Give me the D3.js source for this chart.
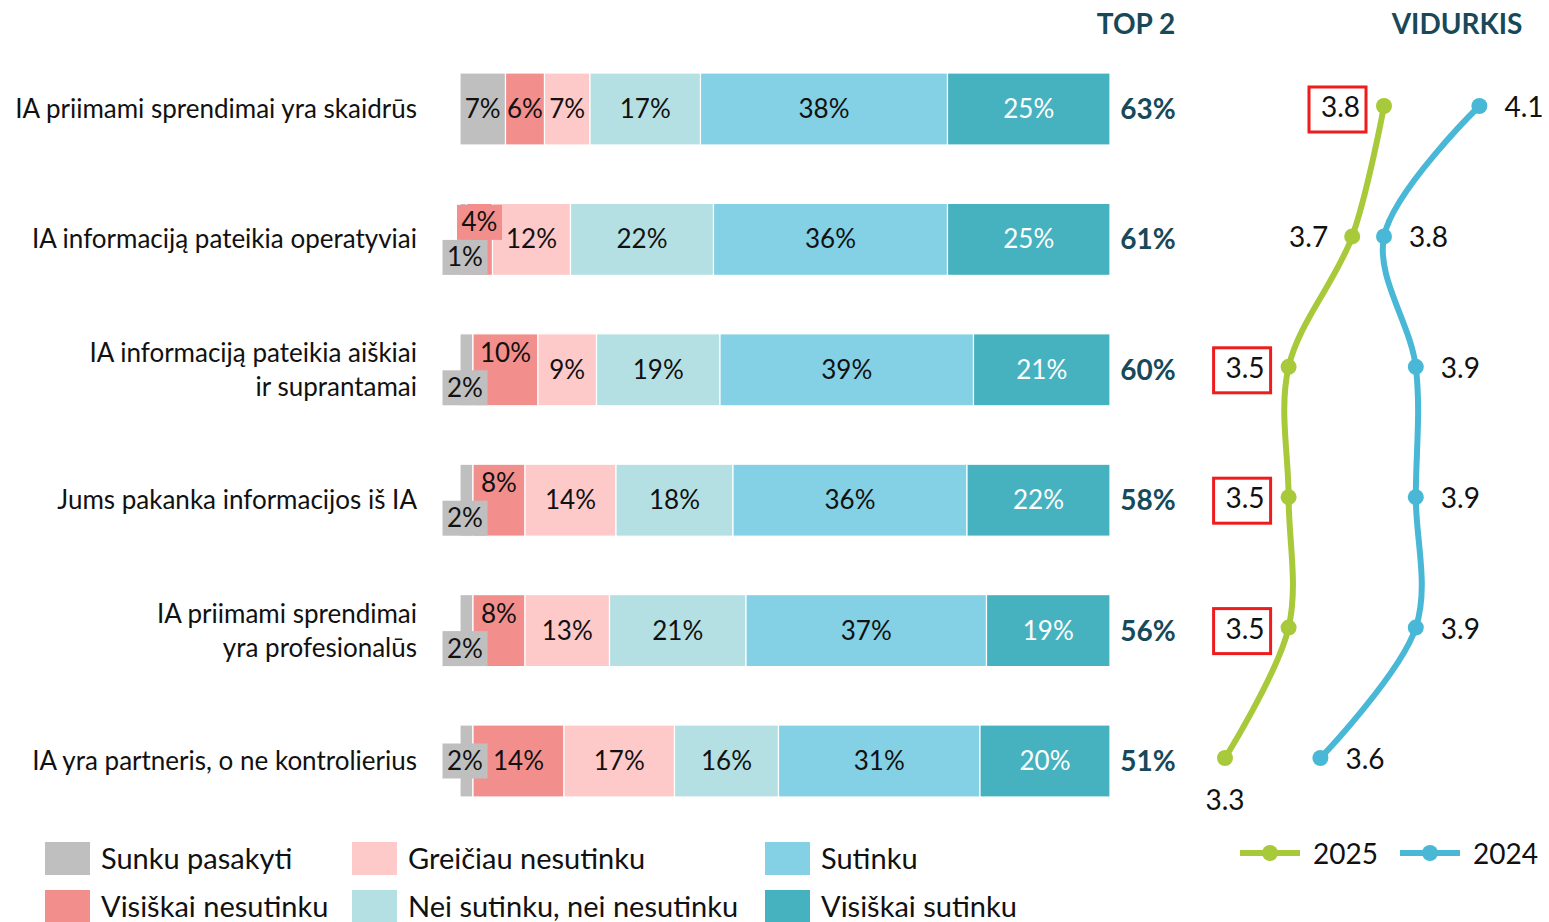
<!DOCTYPE html>
<html>
<head>
<meta charset="utf-8">
<script src="https://cdnjs.cloudflare.com/ajax/libs/d3/7.8.5/d3.min.js"></script>
<style>
body { margin: 0; background: #fff; }
text { font-family: Lato, "Open Sans", sans-serif; }
</style>
</head>
<body>
<div id="chart"></div>
<script>
// statements (top to bottom)
var categories = [
	"IA priimami sprendimai yra skaidrūs",
	"IA informaciją pateikia operatyviai",
	"IA informaciją pateikia aiškiai|ir suprantamai",
	"Jums pakanka informacijos iš IA",
	"IA priimami sprendimai|yra profesionalūs",
	"IA yra partneris, o ne kontrolierius"
];
var seriesNames = ["Sunku pasakyti", "Visiškai nesutinku", "Greičiau nesutinku", "Nei sutinku, nei nesutinku", "Sutinku", "Visiškai sutinku"];
var sunku = [7, 1, 2, 2, 2, 2];
var visiskaiNe = [6, 4, 10, 8, 8, 14];
var greiciauNe = [7, 12, 9, 14, 13, 17];
var neiNei = [17, 22, 19, 18, 21, 16];
var sutinku = [38, 36, 39, 36, 37, 31];
var visiskaiSut = [25, 25, 21, 22, 19, 20];
var top2 = [63, 61, 60, 58, 56, 51];
var avg2025 = [3.8, 3.7, 3.5, 3.5, 3.5, 3.3];
var avg2024 = [4.1, 3.8, 3.9, 3.9, 3.9, 3.6];
var boxed2025 = [true, false, true, true, true, false];

var colors = ["#bfbfbf", "#f28f8d", "#fec9c9", "#b5e0e3", "#84d0e4", "#46b2bf"];
var darkTeal = "#17495a";
var green = "#a8c939", blue = "#49b8d6";

var W = 1549, H = 922;
var svg = d3.select("#chart").append("svg").attr("width", W).attr("height", H);

var x = d3.scaleLinear().domain([0, 100]).range([460, 1110]);
var y = d3.scalePoint().domain(categories).range([109, 761]);
var barH = 72;

var series = [sunku, visiskaiNe, greiciauNe, neiNei, sutinku, visiskaiSut];
var rows = categories.map(function(c, i) {
	var acc = 0;
	var segs = series.map(function(s, k) {
		var seg = {k: k, v: s[i], x0: acc, x1: acc + s[i]};
		acc += s[i];
		return seg;
	});
	return {cat: c, i: i, segs: segs};
});

// category labels
rows.forEach(function(r) {
	var lines = r.cat.split("|");
	var t = svg.append("text")
		.attr("x", 417)
		.attr("text-anchor", "end")
		.style("font-size", "26px")
		.attr("fill", "#111");
	lines.forEach(function(l, j) {
		t.append("tspan")
			.attr("x", 417)
			.attr("y", y(r.cat) + 9 + (j - (lines.length - 1) / 2) * 34)
			.text(l);
	});
});

// bars
var g = svg.selectAll(".row").data(rows).enter().append("g").attr("class", "row");
g.selectAll("rect").data(function(d) { return d.segs.map(function(s) { s.cat = d.cat; return s; }); })
	.enter().append("rect")
	.attr("x", function(d) { return x(d.x0); })
	.attr("y", function(d) { return y(d.cat) - barH / 2; })
	.attr("width", function(d) { return x(d.x1) - x(d.x0); })
	.attr("height", barH)
	.attr("fill", function(d) { return colors[d.k]; })
	.attr("stroke", "#fff")
	.attr("stroke-width", 1.2);

// segment labels
rows.forEach(function(r) {
	var cy = y(r.cat);
	var grey = r.segs[0], red = r.segs[1];
	var greyCallout = grey.v < 3;
	var greyDy = greyCallout ? (red.v >= 12 ? 0 : 18) : 0;
	r.segs.forEach(function(s) {
		var cx = (x(s.x0) + x(s.x1)) / 2;
		var dy = 0;
		var boxed = false;
		if (s.k === 0 && greyCallout) {
			cx = 465; dy = greyDy; boxed = true;
		}
		if (s.k === 1 && greyCallout && greyDy !== 0) {
			dy = -17;
			if (x(s.x1) - x(s.x0) < 40) boxed = true;
		}
		if (boxed) {
			svg.append("rect")
				.attr("x", cx - 22.5).attr("y", cy + dy - 17.5)
				.attr("width", 45).attr("height", 35)
				.attr("fill", colors[s.k]);
		}
		svg.append("text")
			.attr("x", cx)
			.attr("y", cy + dy + 9)
			.attr("text-anchor", "middle")
			.style("font-size", "26px")
			.attr("fill", s.k === 5 ? "#fff" : "#111")
			.text(s.v + "%");
	});
});

// top 2
svg.append("text").attr("x", 1136).attr("y", 34).attr("text-anchor", "middle")
	.style("font-size", "28px").style("font-weight", "bold").attr("fill", darkTeal).text("TOP 2");
svg.append("text").attr("x", 1457).attr("y", 34).attr("text-anchor", "middle")
	.style("font-size", "28px").style("font-weight", "bold").attr("fill", darkTeal).text("VIDURKIS");
svg.selectAll(".top2").data(top2).enter().append("text")
	.attr("x", 1148).attr("y", function(d, i) { return y(categories[i]) + 10; })
	.attr("text-anchor", "middle")
	.style("font-size", "28px").style("font-weight", "bold").attr("fill", darkTeal)
	.text(function(d) { return d + "%"; });

// averages
var xa = d3.scaleLinear().domain([3.3, 3.8]).range([1225, 1384]);
var line = d3.line()
	.x(function(d) { return xa(d.v); })
	.y(function(d) { return y(d.cat) - 3; })
	.curve(d3.curveCatmullRom.alpha(0.5));

function drawSeries(vals, col) {
	var pts = vals.map(function(v, i) { return {v: v, cat: categories[i], i: i}; });
	svg.append("path").datum(pts).attr("d", line)
		.attr("fill", "none").attr("stroke", col).attr("stroke-width", 6).attr("stroke-linecap", "round");
	svg.selectAll(null).data(pts).enter().append("circle")
		.attr("cx", function(d) { return xa(d.v); })
		.attr("cy", function(d) { return y(d.cat) - 3; })
		.attr("r", 8).attr("fill", col);
	return pts;
}
var p25 = drawSeries(avg2025, green);
var p24 = drawSeries(avg2024, blue);

p25.forEach(function(d, i) {
	var px = xa(d.v), py = y(d.cat) - 3;
	var last = i === p25.length - 1;
	var tx = last ? px : px - 24;
	var ty = last ? py + 52 : py + 11;
	svg.append("text").attr("x", tx).attr("y", ty)
		.attr("text-anchor", last ? "middle" : "end")
		.style("font-size", "28px").attr("fill", "#111")
		.text(d3.format(".1f")(d.v));
	if (boxed2025[i]) {
		svg.append("rect")
			.attr("x", px - 75).attr("y", py - 19)
			.attr("width", 57).attr("height", 45)
			.attr("fill", "none").attr("stroke", "#ee1c1c").attr("stroke-width", 3);
	}
});
p24.forEach(function(d) {
	var px = xa(d.v), py = y(d.cat) - 3;
	svg.append("text").attr("x", px + 25).attr("y", py + 11)
		.style("font-size", "28px").attr("fill", "#111")
		.text(d3.format(".1f")(d.v));
});

// legend
var legX = [45, 352, 765];
var legY = [842, 890];
seriesNames.forEach(function(n, k) {
	var col = Math.floor(k / 2), row = k % 2;
	svg.append("rect").attr("x", legX[col]).attr("y", legY[row])
		.attr("width", 45).attr("height", 33).attr("fill", colors[k]);
	svg.append("text").attr("x", legX[col] + 56).attr("y", legY[row] + 27)
		.style("font-size", "29px").attr("fill", "#111").text(n);
});
[{n: "2025", c: green, x: 1240}, {n: "2024", c: blue, x: 1400}].forEach(function(l) {
	svg.append("line").attr("x1", l.x).attr("x2", l.x + 60).attr("y1", 853).attr("y2", 853)
		.attr("stroke", l.c).attr("stroke-width", 6);
	svg.append("circle").attr("cx", l.x + 30).attr("cy", 853).attr("r", 8).attr("fill", l.c);
	svg.append("text").attr("x", l.x + 73).attr("y", 864)
		.style("font-size", "28px").attr("fill", "#111").text(l.n);
});
</script>
</body>
</html>
